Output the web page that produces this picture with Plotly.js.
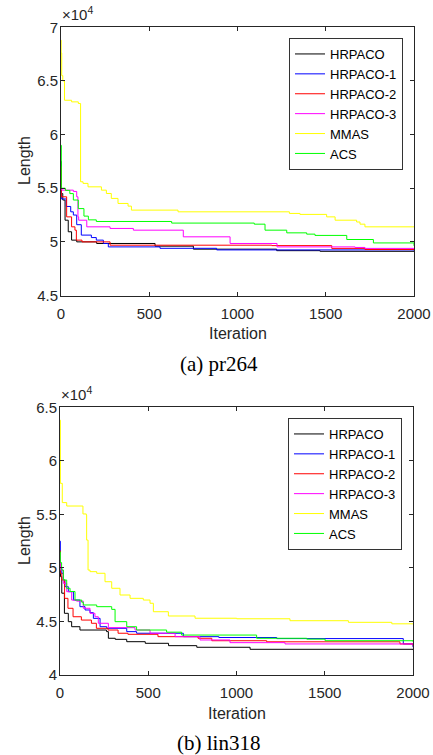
<!DOCTYPE html>
<html>
<head>
<meta charset="utf-8">
<script src="https://cdn.plot.ly/plotly-3.0.1.min.js"></script>
<style>html,body{margin:0;padding:0;background:#fff;}#chart{width:433px;height:755px;}</style>
</head>
<body>
<div id="chart"></div>
<script>
// ---- shared ----
const seriesNames = ['HRPACO', 'HRPACO-1', 'HRPACO-2', 'HRPACO-3', 'MMAS', 'ACS'];
const xTicks = [0, 500, 1000, 1500, 2000];
const xTickText = ['0', '500', '1000', '1500', '2000'];

// ---- (a) pr264 ----
const prYTicks = [45000, 50000, 55000, 60000, 65000, 70000];
const prYTickText = ['4.5', '5', '5.5', '6', '6.5', '7'];
const pr_HRPACO_x = [0, 2, 10, 23, 41, 60, 89, 202, 533, 750, 1222, 1468, 2000];
const pr_HRPACO_y = [57500, 54500, 53900, 52020, 50940, 50160, 50000, 49850, 49600, 49320, 49180, 49120, 49100];
const pr_HRPACO1_x = [0, 2, 30, 55, 70, 89, 115, 172, 200, 240, 268, 561, 882, 2000];
const pr_HRPACO1_y = [55500, 54000, 53300, 52800, 52500, 51600, 50630, 50400, 50160, 49850, 49530, 49400, 49250, 49200];
const pr_HRPACO2_x = [0, 2, 32, 60, 79, 87, 119, 278, 1194, 1534, 1722, 2000];
const pr_HRPACO2_y = [57000, 54200, 52330, 51400, 51090, 50160, 50000, 49690, 49650, 49390, 49290, 49290];
const pr_HRPACO3_x = [0, 5, 70, 89, 96, 100, 146, 278, 410, 693, 958, 1224, 1666, 1722, 2000];
const pr_HRPACO3_y = [55000, 54820, 54700, 54200, 52330, 52020, 51400, 51250, 51090, 50470, 49850, 49530, 49480, 49390, 49390];
const pr_MMAS_x = [0, 1, 4, 10, 20, 60, 98, 111, 125, 153, 229, 257, 285, 323, 380, 399, 663, 1294, 1354, 1505, 1553, 1675, 1694, 1722, 2000];
const pr_MMAS_y = [68800, 67600, 65500, 65000, 63200, 63050, 62900, 55600, 55450, 55130, 54820, 54510, 54050, 53580, 53330, 52960, 52800, 52650, 52560, 52330, 52020, 51850, 51650, 51400, 51400];
const pr_ACS_x = [0, 2, 25, 50, 70, 98, 130, 155, 200, 627, 1095, 1156, 1279, 1392, 1439, 1619, 1770, 2000];
const pr_ACS_y = [59000, 55000, 54800, 54500, 53900, 53100, 52400, 52050, 51900, 51750, 51650, 51090, 50840, 50720, 50600, 50220, 49900, 49630];

// ---- (b) lin318 ----
const linYTicks = [40000, 45000, 50000, 55000, 60000, 65000];
const linYTickText = ['4', '4.5', '5', '5.5', '6', '6.5'];
const lin_HRPACO_x = [0, 3, 10, 25, 47, 66, 113, 264, 274, 313, 378, 483, 615, 775, 1077, 2000];
const lin_HRPACO_y = [50500, 49180, 47640, 45760, 44980, 44510, 44200, 44050, 43430, 43330, 43110, 42960, 42740, 42590, 42400, 42330];
const lin_HRPACO1_x = [0, 2, 10, 19, 28, 47, 76, 113, 142, 170, 189, 227, 265, 378, 434, 699, 900, 1228, 1945, 2000];
const lin_HRPACO1_y = [52500, 50000, 49500, 48870, 48250, 47780, 47000, 46380, 46070, 45820, 45290, 44510, 44360, 44050, 43900, 43580, 43500, 43400, 42900, 42600];
const lin_HRPACO2_x = [0, 2, 10, 26, 45, 74, 121, 178, 206, 272, 329, 385, 555, 782, 860, 1171, 1926, 2000];
const lin_HRPACO2_y = [51600, 49500, 48870, 47160, 46230, 45440, 45130, 44830, 44360, 44200, 43900, 43800, 43580, 43430, 43200, 43100, 42900, 42750];
const lin_HRPACO3_x = [0, 2, 19, 38, 66, 94, 132, 170, 198, 217, 274, 425, 510, 652, 793, 963, 1275, 2000];
const lin_HRPACO3_y = [51400, 49800, 48560, 47780, 47000, 46900, 46230, 45760, 45440, 44830, 44420, 44200, 43900, 43580, 43270, 43020, 42900, 42900];
const lin_MMAS_x = [0, 2, 13, 38, 130, 149, 151, 159, 170, 208, 255, 293, 340, 397, 472, 510, 529, 614, 765, 1001, 1303, 1634, 1880, 2000];
const lin_MMAS_y = [63800, 57900, 56100, 55780, 55040, 54940, 52600, 49800, 49650, 49500, 48710, 48100, 47470, 47160, 47000, 46700, 45910, 45510, 45300, 45250, 45070, 44920, 44780, 44780];
const lin_ACS_x = [0, 2, 9, 19, 38, 57, 85, 123, 132, 208, 293, 312, 378, 434, 604, 689, 1114, 1398, 1502, 2000];
const lin_ACS_y = [51500, 50500, 49800, 48870, 48100, 47800, 47000, 46800, 46540, 46380, 46130, 44980, 44510, 44200, 44000, 43730, 43430, 43350, 43200, 43110];

const colors = ['#000000', '#0000ff', '#ff0000', '#ff00ff', '#ffff00', '#00ff00'];
const prData = [[pr_HRPACO_x, pr_HRPACO_y], [pr_HRPACO1_x, pr_HRPACO1_y], [pr_HRPACO2_x, pr_HRPACO2_y], [pr_HRPACO3_x, pr_HRPACO3_y], [pr_MMAS_x, pr_MMAS_y], [pr_ACS_x, pr_ACS_y]];
const linData = [[lin_HRPACO_x, lin_HRPACO_y], [lin_HRPACO1_x, lin_HRPACO1_y], [lin_HRPACO2_x, lin_HRPACO2_y], [lin_HRPACO3_x, lin_HRPACO3_y], [lin_MMAS_x, lin_MMAS_y], [lin_ACS_x, lin_ACS_y]];

const traces = [];
prData.forEach((d, i) => traces.push({
  x: d[0], y: d[1], name: seriesNames[i], type: 'scatter', mode: 'lines',
  line: {color: colors[i], width: 1, shape: 'hv'}, xaxis: 'x', yaxis: 'y', legend: 'legend'
}));
linData.forEach((d, i) => traces.push({
  x: d[0], y: d[1], name: seriesNames[i], type: 'scatter', mode: 'lines',
  line: {color: colors[i], width: 1, shape: 'hv'}, xaxis: 'x2', yaxis: 'y2', legend: 'legend2'
}));

const W = 433, H = 755;
const fx = px => px / W;
const fy = py => (H - py) / H;
const tickFont = {family: 'Liberation Sans, Arial, sans-serif', size: 15, color: '#262626'};
const axisCommon = {
  showline: true, linecolor: '#262626', linewidth: 1, mirror: 'ticks',
  ticks: 'inside', ticklen: 4, tickcolor: '#262626', tickwidth: 1,
  showgrid: false, zeroline: false, fixedrange: true,
  tickfont: tickFont
};
const xAxisCommon = Object.assign({}, axisCommon, {ticklabelstandoff: 4});
const yAxisCommon = Object.assign({}, axisCommon, {ticklabelstandoff: -1});
const legendCommon = {
  bgcolor: '#ffffff', bordercolor: '#333333', borderwidth: 1,
  font: {family: 'Liberation Sans, Arial, sans-serif', size: 13, color: '#000000'},
  xanchor: 'right', yanchor: 'top', tracegroupgap: 0, itemwidth: 30
};
const labelFont = {family: 'Liberation Sans, Arial, sans-serif', size: 16, color: '#262626'};
const capFont = {family: 'Liberation Serif, Times New Roman, serif', size: 21, color: '#000000'};
const expFont = {family: 'Liberation Sans, Arial, sans-serif', size: 15, color: '#262626'};

const layout = {
  width: W, height: H, autosize: false,
  margin: {l: 0, r: 0, t: 0, b: 0},
  paper_bgcolor: '#ffffff', plot_bgcolor: '#ffffff',
  showlegend: true,
  xaxis: Object.assign({}, xAxisCommon, {domain: [fx(61), fx(414)], range: [0, 2000], tickvals: xTicks, ticktext: xTickText, anchor: 'y'}),
  yaxis: Object.assign({}, yAxisCommon, {domain: [fy(295.5), fy(27.3)], range: [45000, 70000], tickvals: prYTicks, ticktext: prYTickText, anchor: 'x'}),
  xaxis2: Object.assign({}, xAxisCommon, {domain: [fx(60), fx(413)], range: [0, 2000], tickvals: xTicks, ticktext: xTickText, anchor: 'y2'}),
  yaxis2: Object.assign({}, yAxisCommon, {domain: [fy(675), fy(407.3)], range: [40000, 65000], tickvals: linYTicks, ticktext: linYTickText, anchor: 'x2'}),
  legend: Object.assign({}, legendCommon, {x: fx(403), y: fy(38)}),
  legend2: Object.assign({}, legendCommon, {x: fx(402), y: fy(418)}),
  annotations: [
    {text: '×10<sup>4</sup>', x: fx(60), y: fy(25), xref: 'paper', yref: 'paper', xanchor: 'left', yanchor: 'bottom', showarrow: false, font: expFont},
    {text: '×10<sup>4</sup>', x: fx(59), y: fy(405), xref: 'paper', yref: 'paper', xanchor: 'left', yanchor: 'bottom', showarrow: false, font: expFont},
    {text: 'Length', x: fx(24), y: fy(161), xref: 'paper', yref: 'paper', xanchor: 'center', yanchor: 'middle', textangle: -90, showarrow: false, font: labelFont},
    {text: 'Length', x: fx(24), y: fy(541), xref: 'paper', yref: 'paper', xanchor: 'center', yanchor: 'middle', textangle: -90, showarrow: false, font: labelFont},
    {text: 'Iteration', x: fx(237.5), y: fy(333), xref: 'paper', yref: 'paper', xanchor: 'center', yanchor: 'middle', showarrow: false, font: labelFont},
    {text: 'Iteration', x: fx(236.5), y: fy(713), xref: 'paper', yref: 'paper', xanchor: 'center', yanchor: 'middle', showarrow: false, font: labelFont},
    {text: '(a) pr264', x: fx(219), y: fy(364), xref: 'paper', yref: 'paper', xanchor: 'center', yanchor: 'middle', showarrow: false, font: capFont},
    {text: '(b) lin318', x: fx(218.5), y: fy(743), xref: 'paper', yref: 'paper', xanchor: 'center', yanchor: 'middle', showarrow: false, font: capFont}
  ]
};

Plotly.newPlot('chart', traces, layout, {staticPlot: true, displayModeBar: false});
</script>
</body>
</html>
